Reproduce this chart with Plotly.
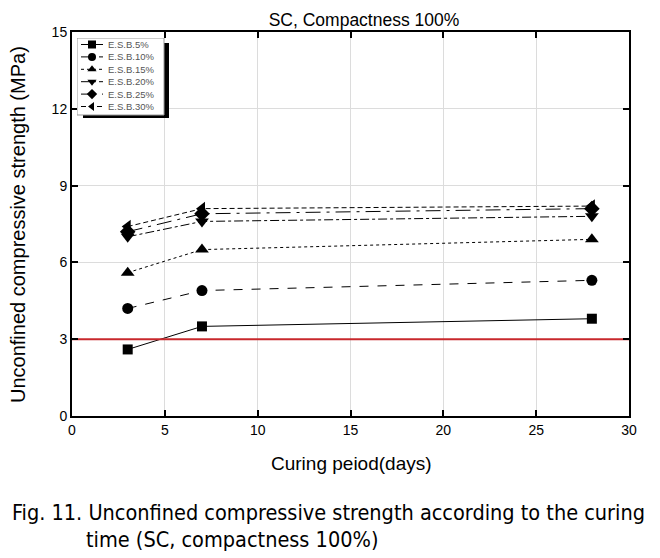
import plotly.graph_objects as go

days = [3, 7, 28]
series_names = ["E.S.B.5%", "E.S.B.10%", "E.S.B.15%", "E.S.B.20%", "E.S.B.25%", "E.S.B.30%"]
esb5 = [2.6, 3.5, 3.8]
esb10 = [4.2, 4.9, 5.3]
esb15 = [5.6, 6.5, 6.9]
esb20 = [7.0, 7.6, 7.8]
esb25 = [7.2, 7.9, 8.1]
esb30 = [7.4, 8.1, 8.2]
limit_value = 3
x_ticks = [0, 5, 10, 15, 20, 25, 30]
y_ticks = [0, 3, 6, 9, 12, 15]

values = [esb5, esb10, esb15, esb20, esb25, esb30]
symbols = ["square", "circle", "triangle-up", "triangle-down", "diamond", "triangle-left"]
dashes = ["solid", "dash", "dot", "dashdot", "longdashdot", "5px,3px"]
sizes = [10, 11, 12, 12, 12, 12]

FONT = "Arial, Liberation Sans, sans-serif"
CAP_FONT = "Liberation Sans Narrow, Arial Narrow, DejaVu Sans Condensed, sans-serif"

fig = go.Figure()
for name, vals, sym, dash, sz in zip(series_names, values, symbols, dashes, sizes):
    fig.add_trace(go.Scatter(
        x=days, y=vals, name=name, mode="lines+markers",
        line=dict(color="black", width=1, dash=dash),
        marker=dict(symbol=sym, size=sz, color="black"),
        showlegend=False,
    ))

fig.add_trace(go.Scatter(
    x=[0, 30], y=[limit_value, limit_value], mode="lines",
    line=dict(color="#c8282c", width=2), showlegend=False, hoverinfo="skip",
))

# ---- custom legend on an overlay axis (units ~ pixels inside the legend box)
LW, LH = 92, 80          # overlay axis extent
box = (0, 87, 0, 77)     # x0, x1, y0, y1
shadow = (6, 92, 5, 80)
row_gap = 12.4
row0 = 6.5
fig.add_trace(go.Scatter(
    x=[shadow[0], shadow[1], shadow[1], shadow[0], shadow[0]],
    y=[shadow[2], shadow[2], shadow[3], shadow[3], shadow[2]],
    fill="toself", fillcolor="black", line=dict(width=0), mode="lines",
    xaxis="x2", yaxis="y2", showlegend=False, hoverinfo="skip"))
fig.add_trace(go.Scatter(
    x=[box[0], box[1], box[1], box[0], box[0]],
    y=[box[2], box[2], box[3], box[3], box[2]],
    fill="toself", fillcolor="white", line=dict(width=1, color="#999"), mode="lines",
    xaxis="x2", yaxis="y2", showlegend=False, hoverinfo="skip"))
for i, (name, sym, dash) in enumerate(zip(series_names, symbols, dashes)):
    yy = row0 + i * row_gap
    fig.add_trace(go.Scatter(
        x=[4, 26], y=[yy, yy], mode="lines", line=dict(color="black", width=1, dash=dash),
        xaxis="x2", yaxis="y2", showlegend=False, hoverinfo="skip"))
    fig.add_trace(go.Scatter(
        x=[15], y=[yy], mode="markers", marker=dict(symbol=sym, size=8, color="black"),
        xaxis="x2", yaxis="y2", showlegend=False, hoverinfo="skip"))
    fig.add_annotation(text=name, x=29, y=yy, xref="x2", yref="y2", xanchor="left",
                       yanchor="middle", showarrow=False,
                       font=dict(family=FONT, size=9.5, color="#555"))

axis_common = dict(
    showline=True, linecolor="black", linewidth=2, mirror="ticks",
    ticks="inside", ticklen=6, tickwidth=2, tickcolor="black",
    showgrid=True, gridcolor="#dcdcdc", gridwidth=1, zeroline=False,
    tickfont=dict(family=FONT, size=14, color="black"),
)

# plot area in reference: x 72..629, y 32..416 (page has an 8px body offset)
L, T = 64, 24
R = 660 - (629 - 8)
B = 558 - (416 - 8)
PW = 660 - L - R
PH = 558 - T - B

def px_x(sx):
    return (sx - 8 - L) / PW

def px_y(sy):
    return (558 - B - (sy - 8)) / PH

fig.update_layout(
    width=660, height=558,
    margin=dict(l=L, r=R, t=T, b=B),
    paper_bgcolor="white", plot_bgcolor="white",
    title=dict(text="SC, Compactness 100%", x=356 / 660, xanchor="center",
               y=1 - 11.5 / 558, yanchor="middle",
               font=dict(family=FONT, size=17.5, color="black")),
    xaxis=dict(range=[0, 30], tickvals=x_ticks, **axis_common),
    yaxis=dict(range=[0, 15], tickvals=y_ticks, **axis_common),
    xaxis2=dict(domain=[px_x(77), px_x(169)], range=[0, LW], anchor="y2",
                visible=False, fixedrange=True),
    yaxis2=dict(domain=[px_y(118), px_y(38)], range=[LH, 0], anchor="x2",
                visible=False, fixedrange=True),
    showlegend=False,
)

fig.add_annotation(text="Curing peiod(days)", xref="paper", yref="paper",
                   x=px_x(351), y=px_y(463), xanchor="center", yanchor="middle",
                   showarrow=False, font=dict(family=FONT, size=19, color="black"))
fig.add_annotation(text="Unconfined compressive strength (MPa)", xref="paper", yref="paper",
                   x=px_x(18), y=px_y(225), xanchor="center", yanchor="middle", textangle=-90,
                   showarrow=False, font=dict(family=FONT, size=20, color="black"))

fig.add_annotation(text="Fig. 11. Unconfined compressive strength according to the curing",
                   xref="paper", yref="paper", x=px_x(10), y=px_y(512),
                   xanchor="left", yanchor="middle", showarrow=False,
                   font=dict(family=CAP_FONT, size=21.5, color="black"))
fig.add_annotation(text="time (SC, compactness 100%)",
                   xref="paper", yref="paper", x=px_x(84), y=px_y(539),
                   xanchor="left", yanchor="middle", showarrow=False,
                   font=dict(family=CAP_FONT, size=21.5, color="black"))

fig.write_html("out.html")
